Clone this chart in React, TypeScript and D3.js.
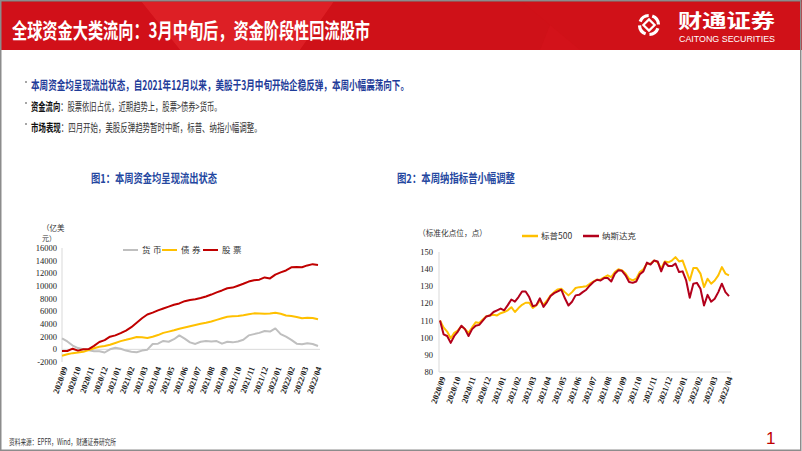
import React from "react";
import * as d3 from "d3";

// ---------- DATA ----------
const monthLabels = [
  "2020/09","2020/10","2020/11","2020/12","2021/01","2021/02","2021/03","2021/04","2021/05","2021/06",
  "2021/07","2021/08","2021/09","2021/10","2021/11","2021/12","2022/01","2022/02","2022/03","2022/04",
];

// Fig 1: cumulative flows (亿美元)
const flowTicks = [-2000, 0, 2000, 4000, 6000, 8000, 10000, 12000, 14000, 16000];
const moneyFlow = [1740,1250,600,200,0,-150,-300,-300,-500,0,250,100,-200,-370,-470,-200,-50,850,900,1320,1200,1600,2200,1700,1100,850,1200,1300,1250,1300,900,1200,1100,1250,1500,2200,2400,2600,2900,2800,3300,2400,2000,1500,900,800,950,850,530];
const bondFlow = [-1000,-780,-600,-500,-400,-100,180,400,530,720,1000,1300,1500,1720,1950,1900,1800,2000,2250,2600,2800,3000,3250,3450,3650,3850,4050,4200,4400,4650,4900,5150,5230,5280,5380,5530,5680,5650,5630,5650,5790,5620,5350,5250,5100,4900,4980,4950,4740];
const equityFlow = [-260,-260,100,-200,0,50,550,1150,1450,2000,2200,2550,2950,3500,4200,4900,5500,5800,6150,6450,6750,7050,7250,7600,7800,7900,8100,8350,8650,9000,9300,9650,9750,10050,10350,10700,10900,11000,11350,11200,11800,12150,12450,12950,13000,12950,13250,13450,13320];
const flowSeries = [
  { name: "货币", color: "#BFBFBF", values: moneyFlow },
  { name: "债券", color: "#FFC000", values: bondFlow },
  { name: "股票", color: "#C00000", values: equityFlow },
];

// Fig 2: normalized index levels
const indexTicks = [80, 90, 100, 110, 120, 130, 140, 150];
const sp500 = [110,106,103.6,99.7,102.8,104.2,106.7,105,102.8,106,109,108.6,110.6,112.6,113,113.4,113,114.3,115,116,117.8,115,117.3,119.2,120.4,120.4,117.3,118.8,121.7,119.2,121.7,124.7,126.6,128.2,128.6,126.6,124.7,126.6,129,129.5,129.7,130,131.5,132.8,133.8,134,135.2,136.4,135.4,138.3,139.9,139.3,137.4,134.4,133.4,134.4,138.3,139.9,143.2,143.2,145,144,140.2,144.5,144,145,147,144.5,145,139.3,133.4,140.6,140.6,137.4,129.5,134.4,131.5,133.4,136.4,141.2,137.4,136.4];
const nasdaq = [110,102,101,97,101,103.6,107,105,101,105,107,107.5,110,112.4,113,115,116,117,116,119,122.3,121,123.7,127,127,123.7,118.4,119,123,118,120.8,124.3,126,127,128,123,118.8,121,124.7,125,126.6,128,130.5,132.5,133.8,133.4,134.8,134.8,132.8,137.3,139.3,139,136.4,132.5,132,132.8,137,138.7,143.8,142.7,145,144.5,138.7,144,141.8,141.8,143.2,138.3,138.7,133.4,123.3,131.5,132,128.6,118.8,125,121,122.7,126.6,131.5,126.6,124.3];
const indexSeries = [
  { name: "标普500", color: "#FFC000", values: sp500 },
  { name: "纳斯达克", color: "#B3001B", values: nasdaq },
];

// ---------- TEXT ----------
const CJK = "'Noto Sans CJK SC', 'Noto Sans', sans-serif";
const SERIF = "'Liberation Serif', 'DejaVu Serif', serif";

function RotLabels({ scale, y }: { scale: d3.ScaleLinear<number, number>; y: number }) {
  return (
    <g>
      {monthLabels.map((m, i) => (
        <text
          key={m}
          transform={`translate(${scale(i) + 3},${y}) rotate(-70)`}
          textAnchor="end"
          dy="0.35em"
          fontFamily={SERIF}
          fontWeight={700}
          fontSize={8.5}
          fill="#222"
        >
          {m}
        </text>
      ))}
    </g>
  );
}

export default function App() {
  // Left chart
  const xL = d3.scaleLinear().domain([0, moneyFlow.length - 1]).range([62, 318]);
  const xLm = d3.scaleLinear().domain([0, monthLabels.length - 1]).range([62, 316]);
  const yL = d3.scaleLinear().domain([-2000, 16000]).range([362, 248]);
  const lineL = d3.line<number>().x((_, i) => xL(i)).y((v) => yL(v)).curve(d3.curveLinear);

  // Right chart
  const xR = d3.scaleLinear().domain([0, sp500.length - 1]).range([440, 729]);
  const xRm = d3.scaleLinear().domain([0, monthLabels.length - 1]).range([440, 727]);
  const yR = d3.scaleLinear().domain([80, 150]).range([372, 252]);
  const lineR = d3.line<number>().x((_, i) => xR(i)).y((v) => yR(v));

  return (
    <div style={{ position: "absolute", left: 0, top: 0 }}>
      <svg width={802} height={451} style={{ display: "block", background: "#fff" }}>
        {/* header */}
        <rect x={0} y={0} width={802} height={50} fill="#D3121A" />
        <polygon points="140,0 335,0 300,50 180,50" fill="#DE2127" opacity={0.9} />
        <polygon points="0,0 140,0 180,50 0,50" fill="#D11019" />
        <polygon points="335,0 560,0 540,50 300,50" fill="#CF1118" />
        <polygon points="520,0 802,0 802,50 580,50" fill="#D01118" />
        <rect x={0} y={0} width={802} height={2} fill="#B01015" />
        <text x={12} y={38} fontFamily={CJK} fontWeight={700} fontSize={21} fill="#fff"
          textLength={358} lengthAdjust="spacingAndGlyphs">
          全球资金大类流向：3月中旬后，资金阶段性回流股市
        </text>
        {/* logo */}
        <g transform="translate(649,25)">
          <circle r={9.5} fill="none" stroke="#fff" strokeWidth={3.2} strokeDasharray="11 3.9" transform="rotate(-70)" />
          <rect x={-4} y={-4} width={8} height={8} fill="none" stroke="#fff" strokeWidth={2.2} transform="rotate(45)" />
        </g>
        <text x={678} y={27.5} fontFamily={CJK} fontWeight={700} fontSize={19} fill="#fff"
          textLength={97} lengthAdjust="spacingAndGlyphs">财通证券</text>
        <text x={679} y={42} fontFamily="'Liberation Sans', Arial, sans-serif" fontSize={8.5} fill="#fff"
          textLength={96} lengthAdjust="spacingAndGlyphs">CAITONG SECURITIES</text>

        {/* bullets */}
        {[86, 107, 128].map((y) => (
          <rect key={y} x={25} y={y - 5} width={2} height={2} fill="#A6A6A6" />
        ))}
        <text x={31} y={90} fontFamily={CJK} fontWeight={700} fontSize={12.5} fill="#1F3C99"
          textLength={378} lengthAdjust="spacingAndGlyphs">
          本周资金均呈现流出状态，自2021年12月以来，美股于3月中旬开始企稳反弹，本周小幅震荡向下。
        </text>
        <g transform="translate(31,111) scale(0.635,1)">
          <text x={0} y={0} fontFamily={CJK} fontSize={11.5} fill="#333">
            <tspan fontWeight={700} fill="#111">资金流向</tspan>
            <tspan>：股票依旧占优，近期趋势上，股票&gt;债券&gt;货币。</tspan>
          </text>
        </g>
        <g transform="translate(31,132) scale(0.648,1)">
          <text x={0} y={0} fontFamily={CJK} fontSize={11.5} fill="#333">
            <tspan fontWeight={700} fill="#111">市场表现</tspan>
            <tspan>：四月开始，美股反弹趋势暂时中断，标普、纳指小幅调整。</tspan>
          </text>
        </g>

        {/* chart titles */}
        <text x={91} y={183} fontFamily={CJK} fontWeight={700} fontSize={12} fill="#2447A0"
          textLength={126} lengthAdjust="spacingAndGlyphs">图1：本周资金均呈现流出状态</text>
        <text x={397} y={183} fontFamily={CJK} fontWeight={700} fontSize={12} fill="#2447A0"
          textLength={118} lengthAdjust="spacingAndGlyphs">图2：本周纳指标普小幅调整</text>

        {/* ---------- left chart ---------- */}
        <text x={42} y={230.5} fontFamily={CJK} fontSize={7.5} fill="#333">（亿美</text>
        <text x={42} y={241} fontFamily={CJK} fontSize={7} fill="#333">元）</text>
        <line x1={62} x2={62} y1={yL(16000)} y2={yL(-2000)} stroke="#D9D9D9" />
        <line x1={62} x2={320} y1={yL(0)} y2={yL(0)} stroke="#D9D9D9" />
        {flowTicks.map((t) => (
          <text key={t} x={57} y={yL(t)} dy="0.35em" textAnchor="end" fontFamily={SERIF} fontSize={8.5} fill="#222">
            {t}
          </text>
        ))}
        {flowSeries.map((s) => (
          <path key={s.name} d={lineL(s.values) || ""} fill="none" stroke={s.color} strokeWidth={2} strokeLinejoin="round" />
        ))}
        <RotLabels scale={xLm} y={367} />
        {flowSeries.map((s, i) => {
          const lx = [123, 162, 203][i];
          return (
            <g key={s.name}>
              <line x1={lx} x2={lx + 15} y1={250} y2={250} stroke={s.color} strokeWidth={2} />
              <text x={lx + 19} y={250} dy="0.35em" fontFamily={CJK} fontSize={8.5} letterSpacing={2.5} fill="#333">
                {s.name}
              </text>
            </g>
          );
        })}

        {/* ---------- right chart ---------- */}
        <text x={418} y={236} fontFamily={CJK} fontSize={8} fill="#333"
          textLength={69} lengthAdjust="spacingAndGlyphs">（标准化点位，点）</text>
        <line x1={439} x2={439} y1={yR(150)} y2={yR(80)} stroke="#D9D9D9" />
        <line x1={439} x2={731} y1={yR(80)} y2={yR(80)} stroke="#D9D9D9" />
        {indexTicks.map((t) => (
          <text key={t} x={433} y={yR(t)} dy="0.35em" textAnchor="end" fontFamily={SERIF} fontSize={8.5} fill="#222">
            {t}
          </text>
        ))}
        {indexSeries.map((s) => (
          <path key={s.name} d={lineR(s.values) || ""} fill="none" stroke={s.color} strokeWidth={2} strokeLinejoin="round" />
        ))}
        <RotLabels scale={xRm} y={377} />
        {indexSeries.map((s, i) => {
          const lx = [522, 583][i];
          return (
            <g key={s.name}>
              <line x1={lx} x2={lx + 16} y1={236} y2={236} stroke={s.color} strokeWidth={2.5} />
              <text x={lx + 19} y={236} dy="0.35em" fontFamily={CJK} fontSize={8.5} fill="#333">
                {s.name}
              </text>
            </g>
          );
        })}

        {/* footer */}
        <text x={9} y={445} fontFamily={CJK} fontSize={8.5} fill="#333"
          textLength={107} lengthAdjust="spacingAndGlyphs">资料来源：EPFR，Wind，财通证券研究所</text>
        <text x={766} y={444} fontFamily="'Liberation Sans', Arial, sans-serif" fontSize={17} fill="#C00000">1</text>

        {/* slide border */}
        <rect x={0.75} y={0.75} width={800} height={449.5} fill="none" stroke="#8C8C8C" strokeWidth={1.5} />
      </svg>
    </div>
  );
}
